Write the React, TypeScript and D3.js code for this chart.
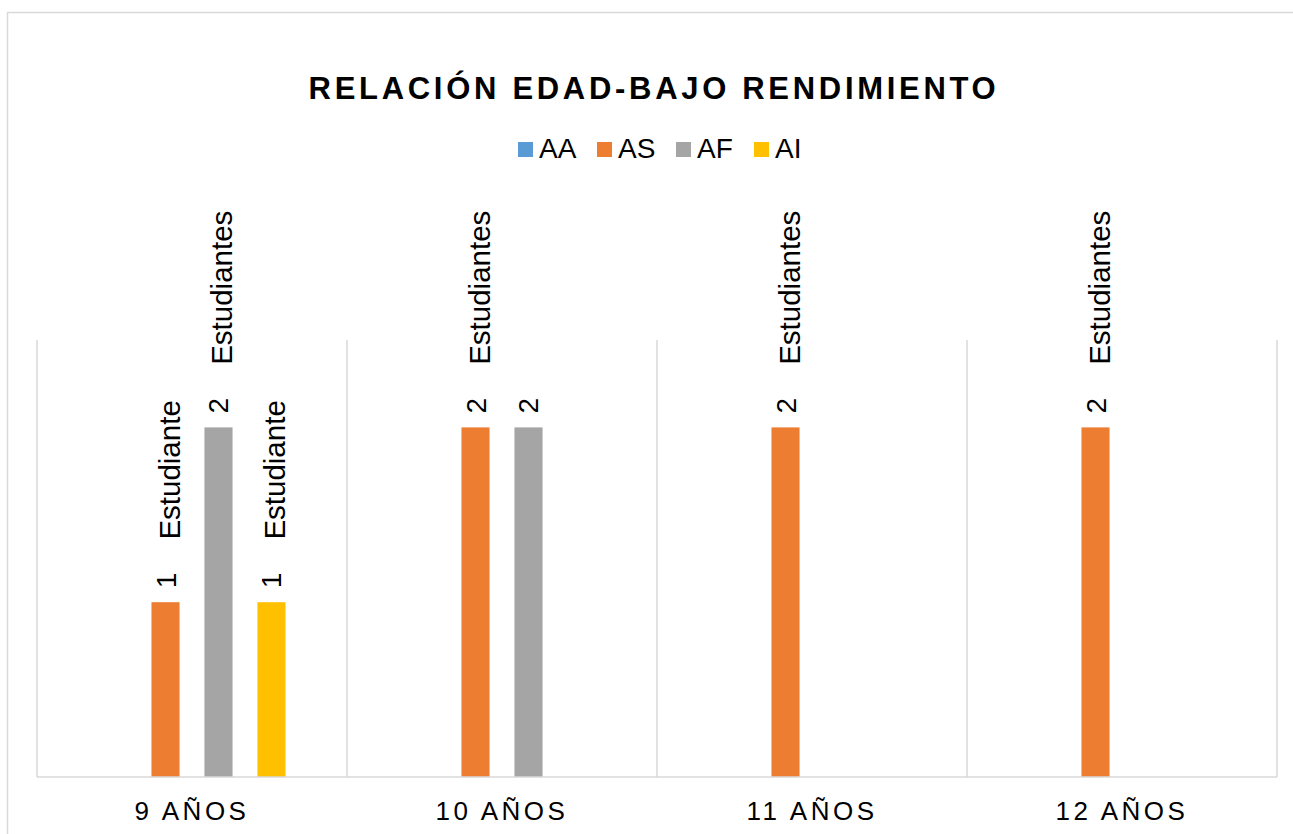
import React, { useRef, useEffect } from "react";
import * as d3 from "d3";

const categories = ["9 AÑOS", "10 AÑOS", "11 AÑOS", "12 AÑOS"];
const seriesNames = ["AA", "AS", "AF", "AI"];
const seriesColors = ["#5B9BD5", "#ED7D31", "#A5A5A5", "#FFC000"];
const valuesAA = [0, 0, 0, 0];
const valuesAS = [1, 2, 2, 2];
const valuesAF = [2, 2, 0, 0];
const valuesAI = [1, 0, 0, 0];
// text shown after the value in each data label
const suffixAA = ["", "", "", ""];
const suffixAS = ["Estudiante", "Estudiantes", "Estudiantes", "Estudiantes"];
const suffixAF = ["Estudiantes", "", "", ""];
const suffixAI = ["Estudiante", "", "", ""];
const yMax = 2.5;

const App = () => {
  const chartRef = useRef(null);

  useEffect(() => {
    const W = 1293,
      H = 834;
    const plot = { left: 37, right: 1277, top: 340, bottom: 777 };
    const font = "Arial, 'Liberation Sans', sans-serif";

    d3.select(chartRef.current).selectAll("*").remove();

    const svg = d3
      .select(chartRef.current)
      .append("svg")
      .attr("width", W)
      .attr("height", H)
      .style("position", "absolute")
      .style("left", 0)
      .style("top", 0)
      .style("font-family", font);

    svg.append("rect").attr("width", W).attr("height", H).attr("fill", "#fff");

    // chart border
    svg
      .append("rect")
      .attr("x", 7.5)
      .attr("y", 12.5)
      .attr("width", 1300)
      .attr("height", 840)
      .attr("fill", "none")
      .attr("stroke", "#d9d9d9")
      .attr("stroke-width", 1.5);

    const allValues = [valuesAA, valuesAS, valuesAF, valuesAI];
    const allSuffix = [suffixAA, suffixAS, suffixAF, suffixAI];
    const data = categories.map((c, i) => ({
      category: c,
      values: seriesNames.map((s, j) => ({
        series: s,
        value: allValues[j][i],
        suffix: allSuffix[j][i],
        color: seriesColors[j],
      })),
    }));

    const x0 = d3.scaleBand().domain(categories).range([plot.left, plot.right]).padding(0);
    const x1 = d3
      .scaleBand()
      .domain(seriesNames)
      .range([0, x0.bandwidth()])
      .paddingInner(0.47)
      .paddingOuter(1.16);
    const y = d3.scaleLinear().domain([0, yMax]).range([plot.bottom, plot.top]);

    // vertical category separators
    const bounds = categories.map((c) => x0(c)).concat([plot.right]);
    svg
      .selectAll(".sep")
      .data(bounds)
      .enter()
      .append("line")
      .attr("x1", (d) => d)
      .attr("x2", (d) => d)
      .attr("y1", plot.top)
      .attr("y2", plot.bottom)
      .attr("stroke", "#d9d9d9")
      .attr("stroke-width", 1.5);

    const groups = svg
      .selectAll(".grp")
      .data(data)
      .enter()
      .append("g")
      .attr("transform", (d) => `translate(${x0(d.category)},0)`);

    groups
      .selectAll("rect")
      .data((d) => d.values.filter((v) => v.value > 0))
      .enter()
      .append("rect")
      .attr("x", (d) => x1(d.series))
      .attr("y", (d) => y(d.value))
      .attr("width", x1.bandwidth())
      .attr("height", (d) => y(0) - y(d.value))
      .attr("fill", (d) => d.color);

    // rotated data labels
    const lbl = groups
      .selectAll(".lbl")
      .data((d) => d.values.filter((v) => v.value > 0))
      .enter()
      .append("text")
      .attr(
        "transform",
        (d) => `translate(${x1(d.series) + x1.bandwidth() / 2},${y(d.value) - 14}) rotate(-90)`
      )
      .attr("fill", "#000");
    lbl
      .append("tspan")
      .attr("font-size", 28)
      .attr("dy", 10)
      .text((d) => d.value);
    lbl
      .append("tspan")
      .attr("font-size", 29.5)
      .attr("dx", 33)
      .attr("dy", 4)
      .text((d) => d.suffix);

    // baseline
    svg
      .append("line")
      .attr("x1", plot.left)
      .attr("x2", plot.right)
      .attr("y1", plot.bottom)
      .attr("y2", plot.bottom)
      .attr("stroke", "#d9d9d9")
      .attr("stroke-width", 1.5);

    // category labels
    svg
      .selectAll(".cat")
      .data(categories)
      .enter()
      .append("text")
      .attr("x", (d) => x0(d) + x0.bandwidth() / 2)
      .attr("y", 820)
      .attr("text-anchor", "middle")
      .attr("font-size", 26)
      .attr("letter-spacing", 3.5)
      .attr("fill", "#000")
      .text((d) => d);

    // title
    svg
      .append("text")
      .attr("x", 654)
      .attr("y", 99)
      .attr("text-anchor", "middle")
      .attr("font-size", 31)
      .attr("font-weight", "bold")
      .attr("letter-spacing", 3.7)
      .attr("fill", "#000")
      .text("RELACIÓN EDAD-BAJO RENDIMIENTO");

    // legend
    const legendX = [518, 597, 676, 754];
    const legend = svg
      .selectAll(".leg")
      .data(seriesNames)
      .enter()
      .append("g")
      .attr("transform", (d, i) => `translate(${legendX[i]},0)`);
    legend
      .append("rect")
      .attr("x", 0)
      .attr("y", 142)
      .attr("width", 15)
      .attr("height", 15)
      .attr("fill", (d, i) => seriesColors[i]);
    legend
      .append("text")
      .attr("x", 21)
      .attr("y", 158)
      .attr("font-size", 28)
      .attr("fill", "#000")
      .text((d) => d);
  }, []);

  return <div ref={chartRef}></div>;
};

export default App;
